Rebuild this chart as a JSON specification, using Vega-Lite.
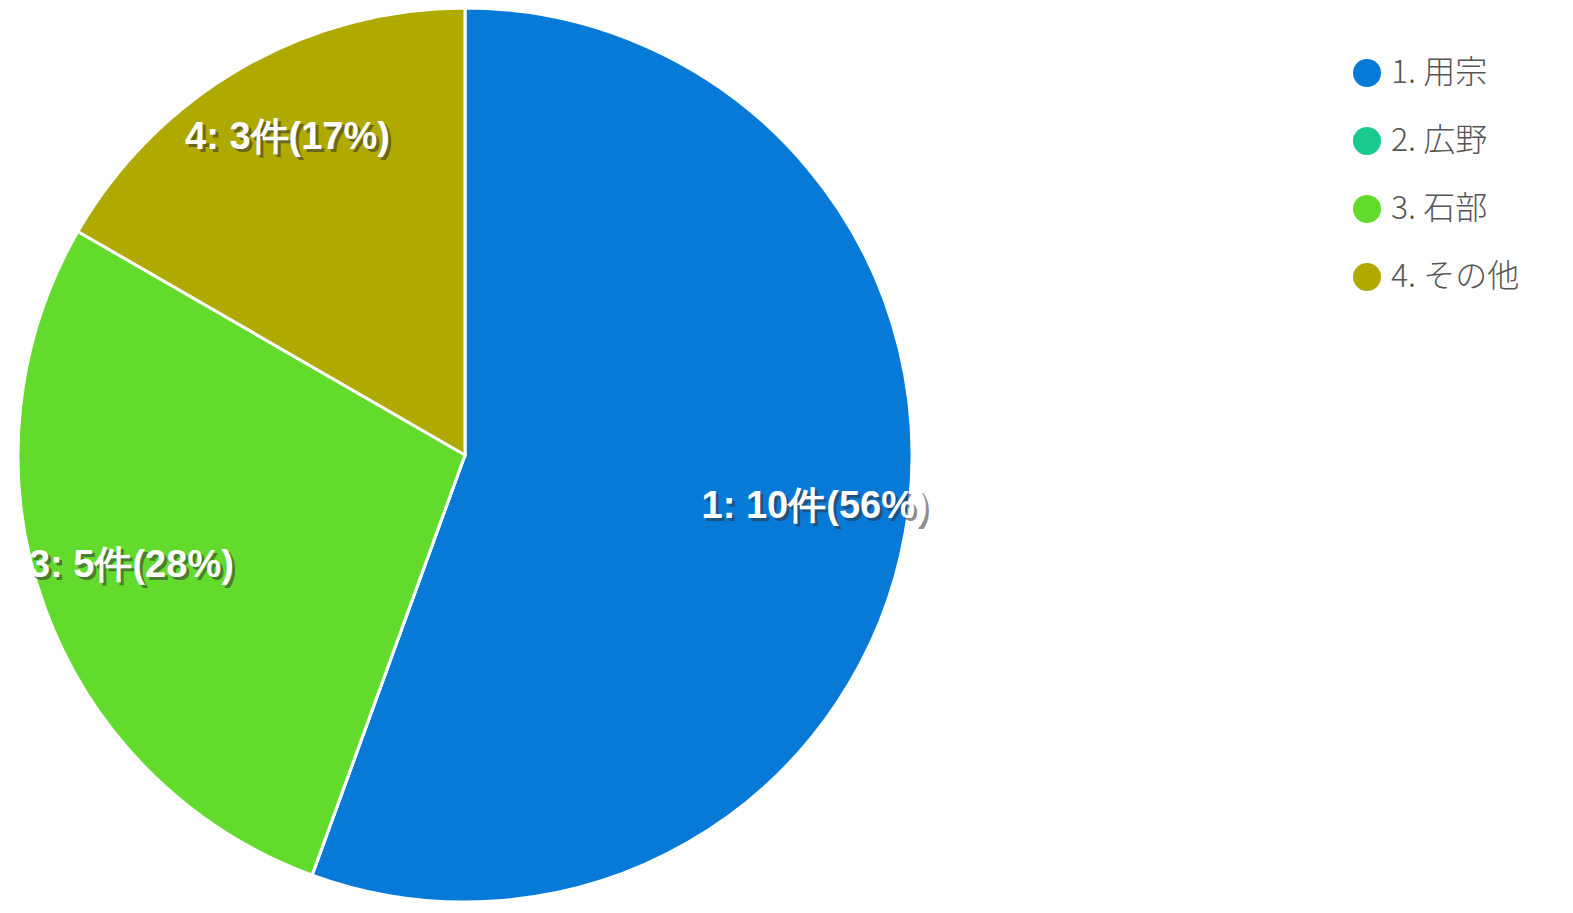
{
  "$schema": "https://vega.github.io/schema/vega-lite/v6.json",
  "width": 930,
  "height": 910,
  "autosize": {"type": "none"},
  "padding": {"left": 0, "top": 0, "right": 643, "bottom": 3},
  "background": "white",
  "config": {"view": {"stroke": null}},
  "data": {
    "values": [
      {"area": "1. 用宗", "count": 10, "label": "1: 10件(56%)"},
      {"area": "2. 広野", "count": 0, "label": "2: 0件(0%)"},
      {"area": "3. 石部", "count": 5, "label": "3: 5件(28%)"},
      {"area": "4. その他", "count": 3, "label": "4: 3件(17%)"}
    ]
  },
  "encoding": {
    "theta": {"field": "count", "type": "quantitative", "stack": true},
    "order": {"field": "area", "type": "nominal", "sort": "ascending"}
  },
  "layer": [
    {
      "mark": {"type": "arc", "outerRadius": 447, "stroke": "white", "strokeWidth": 3},
      "encoding": {
        "color": {
          "field": "area",
          "type": "nominal",
          "scale": {
            "domain": ["1. 用宗", "2. 広野", "3. 石部", "4. その他"],
            "range": ["#0779D7", "#1BC98E", "#63DB2C", "#AFA900"]
          },
          "legend": {
            "title": null,
            "orient": "none",
            "legendX": 1351,
            "legendY": 57,
            "symbolType": "circle",
            "symbolSize": 784,
            "symbolStrokeWidth": 0,
            "labelFont": "Noto Sans CJK JP",
            "labelFontSize": 32,
            "labelFontWeight": 300,
            "labelColor": "#555555",
            "labelOffset": 8,
            "rowPadding": 36,
            "padding": 0
          }
        }
      }
    },
    {
      "transform": [{"filter": "datum.count > 0"}],
      "mark": {"type": "text", "radius": 355, "font": "Liberation Sans", "fontWeight": "bold", "fontSize": 38, "fill": "#333333", "opacity": 0.55, "dx": 3, "dy": -7},
      "encoding": {"text": {"field": "label"}}
    },
    {
      "transform": [{"filter": "datum.count > 0"}],
      "mark": {"type": "text", "radius": 355, "font": "Liberation Sans", "fontWeight": "bold", "fontSize": 38, "fill": "white", "dy": -10},
      "encoding": {"text": {"field": "label"}}
    }
  ]
}
